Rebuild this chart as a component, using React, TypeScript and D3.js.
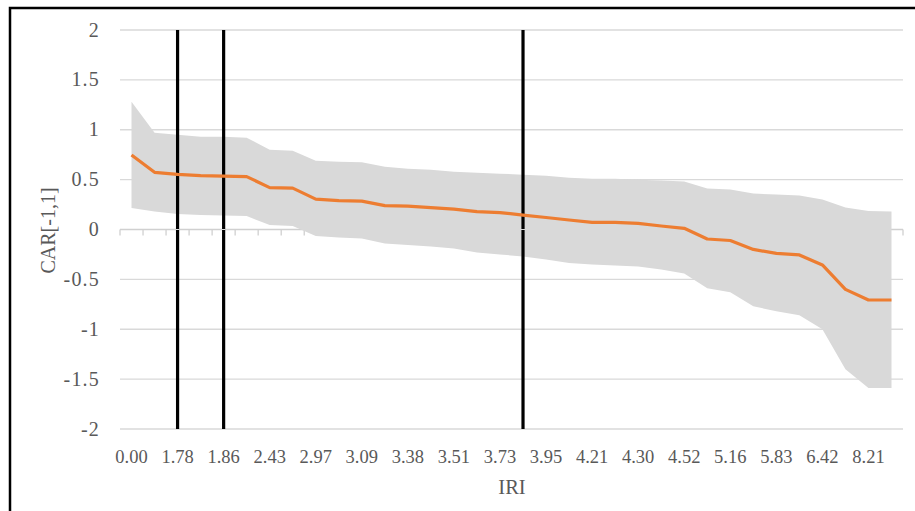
import React from "react";
import * as d3 from "d3";

// IRI labels shown on the category axis (every other category carries a label)
const tickLabels = [
  "0.00", "1.78", "1.86", "2.43", "2.97", "3.09", "3.38", "3.51", "3.73",
  "3.95", "4.21", "4.30", "4.52", "5.16", "5.83", "6.42", "8.21",
];

// mean CAR[-1,1] per category
const meanCar = [
  0.747, 0.573, 0.553, 0.54, 0.535, 0.53, 0.42, 0.415, 0.305, 0.29, 0.285,
  0.24, 0.235, 0.22, 0.205, 0.18, 0.17, 0.145, 0.12, 0.095, 0.072, 0.072,
  0.062, 0.035, 0.012, -0.095, -0.11, -0.2, -0.24, -0.255, -0.355, -0.6,
  -0.707, -0.707,
];

// confidence band
const upperCar = [
  1.28, 0.97, 0.95, 0.93, 0.93, 0.92, 0.8, 0.79, 0.69, 0.68, 0.675, 0.63,
  0.61, 0.6, 0.58, 0.57, 0.56, 0.55, 0.54, 0.52, 0.51, 0.51, 0.5, 0.49, 0.48,
  0.41, 0.4, 0.36, 0.35, 0.34, 0.3, 0.22, 0.185, 0.18,
];
const lowerCar = [
  0.215, 0.18, 0.155, 0.145, 0.14, 0.135, 0.045, 0.035, -0.065, -0.08, -0.09,
  -0.14, -0.155, -0.17, -0.19, -0.23, -0.25, -0.27, -0.3, -0.335, -0.35,
  -0.36, -0.37, -0.4, -0.44, -0.59, -0.63, -0.77, -0.82, -0.86, -1.0, -1.4,
  -1.59, -1.59,
];

// categories where the black threshold lines sit
const markerCats = [2, 4, 17];

const yTicks = [2, 1.5, 1, 0.5, 0, -0.5, -1, -1.5, -2];

const width = 915;
const height = 511;
const font = "'Liberation Serif', 'Times New Roman', serif";

const App = () => {
  const cats = meanCar.map((_, i) => i);
  const x = d3.scaleBand<number>().domain(cats).range([120, 903]).padding(0);
  const y = d3.scaleLinear().domain([-2, 2]).range([429, 30]);
  const cx = (i: number) => (x(i) as number) + x.bandwidth() / 2;

  const area = d3
    .area<number>()
    .x((i) => cx(i))
    .y0((i) => y(lowerCar[i]))
    .y1((i) => y(upperCar[i]));

  const line = d3
    .line<number>()
    .x((i) => cx(i))
    .y((i) => y(meanCar[i]));

  const boundaries = d3.range(cats.length + 1).map((i) =>
    i < cats.length ? (x(i) as number) : 903
  );

  return (
    <svg
      width={width}
      height={height}
      style={{ position: "absolute", left: 0, top: 0, background: "#fff" }}
    >
      <rect x={10} y={8} width={930} height={540} fill="#fff" stroke="#000" strokeWidth={2.5} />

      {/* gridlines */}
      {yTicks
        .filter((t) => t !== 0)
        .map((t) => (
          <line key={t} x1={120} x2={903} y1={y(t)} y2={y(t)} stroke="#d9d9d9" strokeWidth={1.3} />
        ))}

      {/* category axis at zero */}
      <line x1={120} x2={903} y1={y(0)} y2={y(0)} stroke="#d0d0d0" strokeWidth={1.3} />
      {boundaries.map((b, i) => (
        <line key={i} x1={b} x2={b} y1={y(0)} y2={y(0) + 6} stroke="#d0d0d0" strokeWidth={1.3} />
      ))}

      <path d={area(cats) as string} fill="#d9d9d9" />

      {markerCats.map((c) => (
        <g key={c}>
          <line x1={cx(c)} x2={cx(c)} y1={y(2)} y2={y(-2)} stroke="#000" strokeWidth={3.2} />
          <line x1={cx(c) - 2} x2={cx(c) + 2} y1={y(0)} y2={y(0)} stroke="#d9d9d9" strokeWidth={1} />
        </g>
      ))}

      <path d={line(cats) as string} fill="none" stroke="#ed7d31" strokeWidth={3.2} strokeLinejoin="round" />

      {/* y tick labels */}
      {yTicks.map((t) => (
        <text
          key={t}
          x={100}
          y={y(t) + 6.5}
          textAnchor="end"
          fontFamily={font}
          fontSize={20}
          letterSpacing={1.2}
          fill="#595959"
        >
          {String(t)}
        </text>
      ))}

      {/* x tick labels */}
      {tickLabels.map((l, i) => (
        <text
          key={l}
          x={cx(i * 2)}
          y={463}
          textAnchor="middle"
          fontFamily={font}
          fontSize={18.5}
          fill="#595959"
        >
          {l}
        </text>
      ))}

      <text x={512} y={494} textAnchor="middle" fontFamily={font} fontSize={20.5} fill="#595959">
        IRI
      </text>
      <text
        transform={`translate(55, ${y(0) + 1}) rotate(-90)`}
        textAnchor="middle"
        fontFamily={font}
        fontSize={20}
        fill="#595959"
      >
        CAR[-1,1]
      </text>
    </svg>
  );
};

export default App;
